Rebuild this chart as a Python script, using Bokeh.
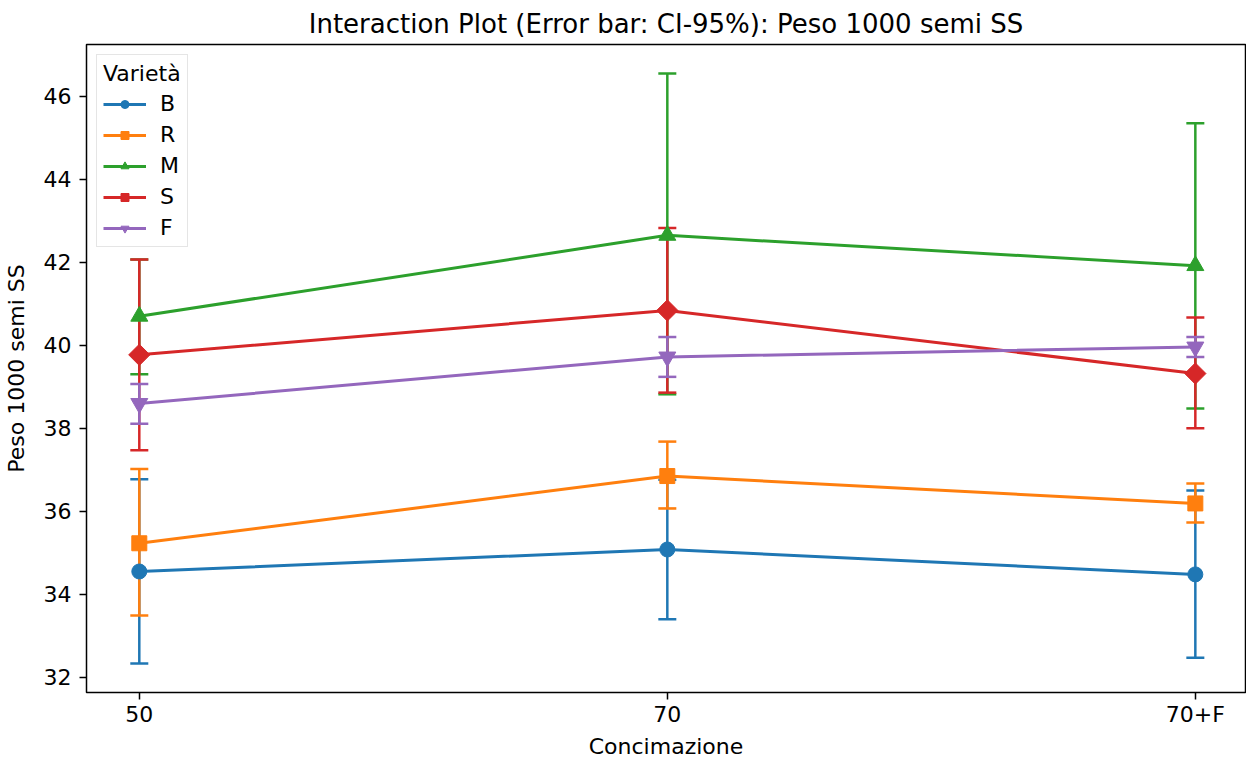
from bokeh.plotting import figure
from bokeh.models import (ColumnDataSource, Whisker, TeeHead, Range1d, FixedTicker,
                          Legend, LegendItem)
from bokeh.embed import file_html
from bokeh.resources import INLINE

# ---- data ----
categories = ["50", "70", "70+F"]
varieties = ["B", "R", "M", "S", "F"]

B_mean = [34.55, 35.08, 34.48]
B_low = [32.33, 33.40, 32.47]
B_high = [36.77, 36.76, 36.50]

R_mean = [35.23, 36.85, 36.19]
R_low = [33.49, 36.07, 35.73]
R_high = [37.02, 37.68, 36.67]

M_mean = [40.70, 42.65, 41.92]
M_low = [39.30, 38.82, 38.48]
M_high = [42.07, 46.55, 45.35]

S_mean = [39.77, 40.84, 39.32]
S_low = [37.47, 38.86, 38.00]
S_high = [42.07, 42.83, 40.67]

F_mean = [38.60, 39.72, 39.96]
F_low = [38.11, 39.24, 39.72]
F_high = [39.07, 40.20, 40.20]

y_ticks = [32, 34, 36, 38, 40, 42, 44, 46]

series = {
    "B": (B_mean, B_low, B_high),
    "R": (R_mean, R_low, R_high),
    "M": (M_mean, M_low, M_high),
    "S": (S_mean, S_low, S_high),
    "F": (F_mean, F_low, F_high),
}
colors = {"B": "#1f77b4", "R": "#ff7f0e", "M": "#2ca02c", "S": "#d62728", "F": "#9467bd"}
markers = {"B": ("circle", 15, 0), "R": ("square", 15, 0), "M": ("triangle", 17, 0),
           "S": ("square", 15, 0.785398), "F": ("inverted_triangle", 17, 0)}

FONT = "DejaVu Sans"
xpos = list(range(len(categories)))

p = figure(frame_width=1159, frame_height=648, output_backend="svg", toolbar_location=None,
           x_range=Range1d(-0.1, 2.095), y_range=Range1d(31.634, 47.249),
           min_border_left=80, min_border_right=1, min_border_top=37, min_border_bottom=63,
           title="Interaction Plot (Error bar: CI-95%): Peso 1000 semi SS")

p.title.text_font = FONT
p.title.text_font_size = "26px"
p.title.text_font_style = "normal"
p.title.align = "center"
p.title.standoff = 12
p.title.text_color = "black"

p.xgrid.visible = False
p.ygrid.visible = False
p.outline_line_color = "black"
p.outline_line_width = 1.5
p.background_fill_color = "white"
p.border_fill_color = "white"

p.xaxis.ticker = FixedTicker(ticks=xpos)
p.xaxis.major_label_overrides = {i: c for i, c in enumerate(categories)}
p.yaxis.ticker = FixedTicker(ticks=y_ticks)
for ax in (p.xaxis[0], p.yaxis[0]):
    ax.axis_line_color = None
    ax.major_tick_in = 0
    ax.major_tick_out = 7
    ax.major_tick_line_width = 1.5
    ax.major_tick_line_color = "black"
    ax.minor_tick_line_color = None
    ax.major_label_text_font = FONT
    ax.major_label_text_font_size = "22px"
    ax.major_label_text_color = "black"
    ax.axis_label_text_font = FONT
    ax.axis_label_text_font_size = "22px"
    ax.axis_label_text_font_style = "normal"
    ax.axis_label_text_color = "black"
p.xaxis.axis_label = "Concimazione"
p.yaxis.axis_label = "Peso 1000 semi SS"
p.xaxis.major_label_standoff = 2
p.xaxis.axis_label_standoff = 4
p.yaxis.major_label_standoff = 8
p.yaxis.axis_label_standoff = 12

items = []
for v in varieties:
    mean, low, high = series[v]
    c = colors[v]
    src = ColumnDataSource(dict(x=xpos, y=mean, low=low, high=high))
    w = Whisker(source=src, base="x", upper="high", lower="low", dimension="height",
                line_color=c, line_width=2.5,
                upper_head=TeeHead(size=18, line_color=c, line_width=2.5),
                lower_head=TeeHead(size=18, line_color=c, line_width=2.5))
    p.add_layout(w)
    ln = p.line("x", "y", source=src, line_color=c, line_width=3)
    mk, sz, ang = markers[v]
    sc = p.scatter("x", "y", source=src, marker=mk, size=sz, angle=ang,
                   fill_color=c, line_color=c)
    items.append(LegendItem(label=v, renderers=[ln, sc]))

legend = Legend(items=items, location="top_left", title="Varietà",
                title_text_font=FONT, title_text_font_size="22px", title_text_font_style="normal",
                title_text_color="black",
                label_text_font=FONT, label_text_font_size="22px", label_text_color="black",
                glyph_width=43, glyph_height=20, label_standoff=14, spacing=6,
                padding=6, margin=10, border_line_color="#cccccc", border_line_width=1,
                background_fill_alpha=0.8)
p.add_layout(legend)

open("out.html", "w").write(file_html(p, INLINE))
